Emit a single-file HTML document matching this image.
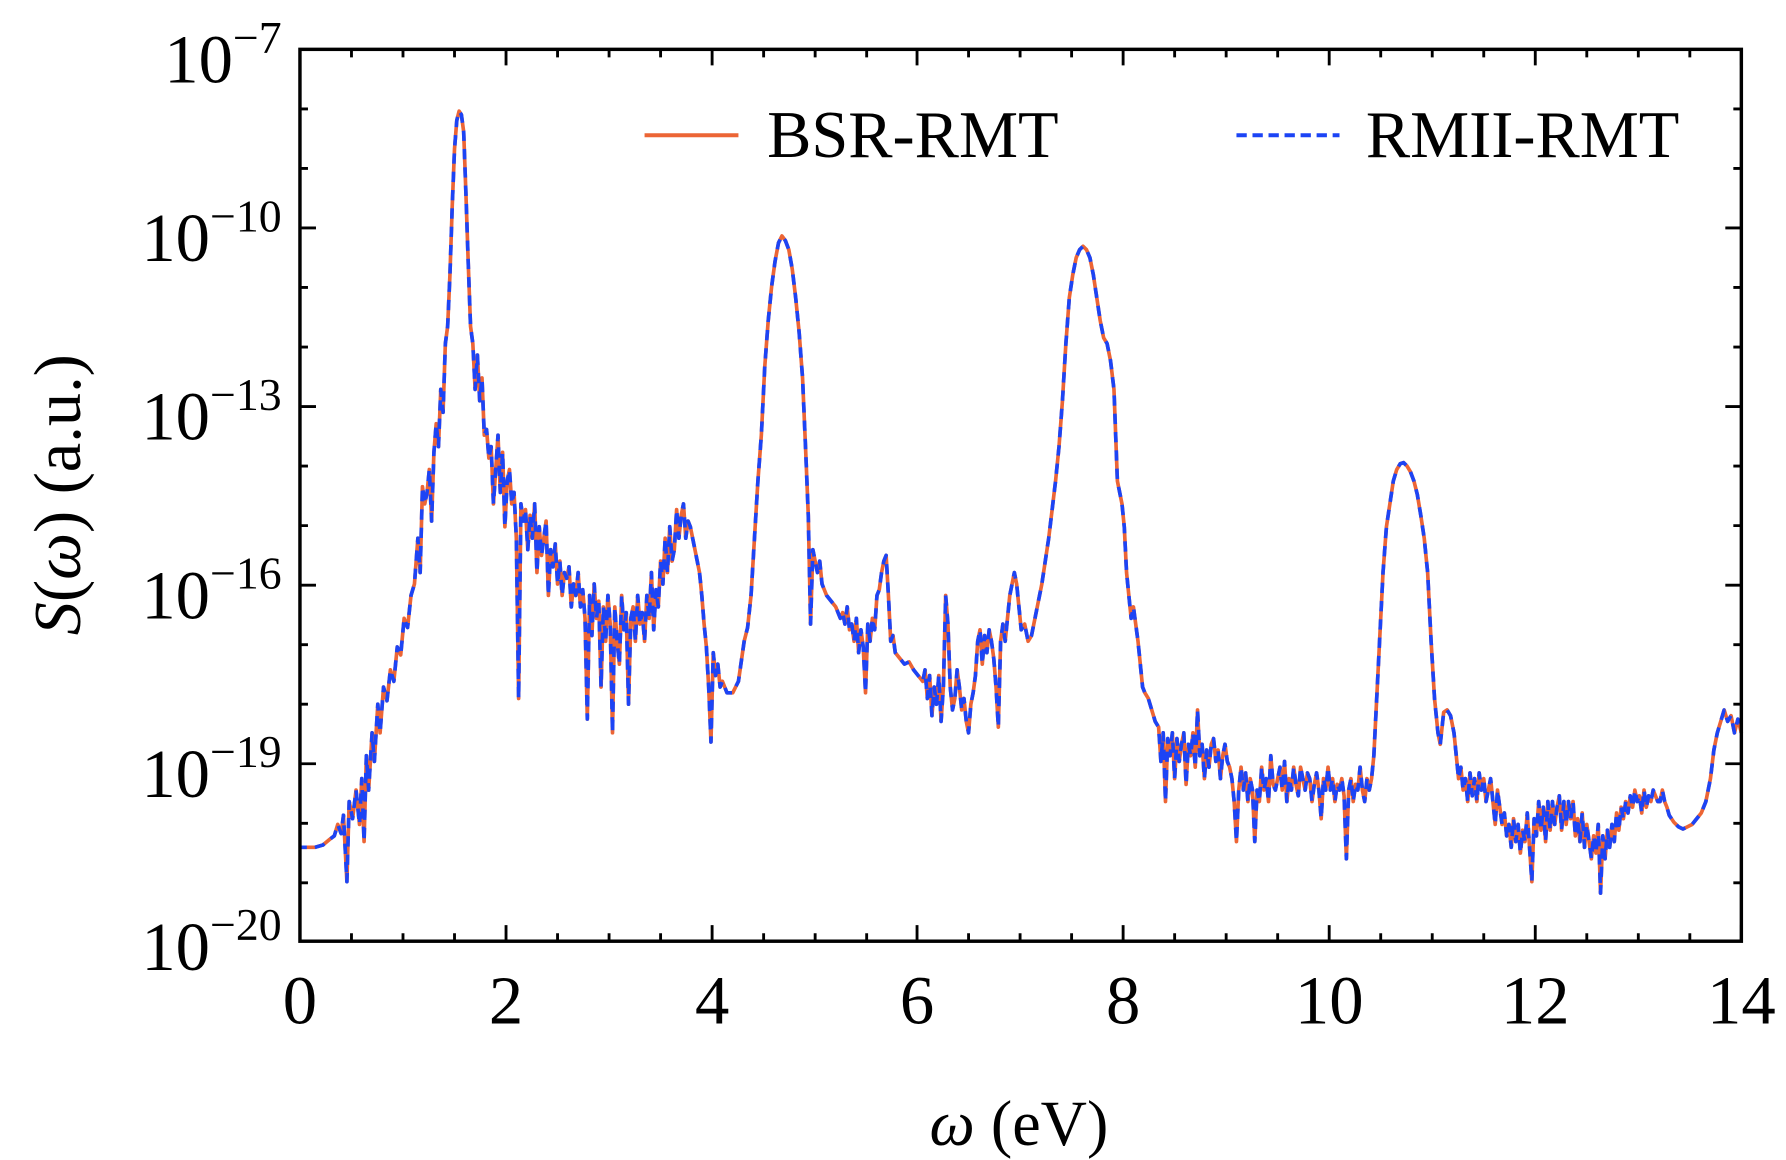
<!DOCTYPE html>
<html><head><meta charset="utf-8">
<style>
html,body{margin:0;padding:0;background:#fff;}
svg{display:block;}
text{font-family:"Liberation Serif",serif;fill:#000;}
</style></head>
<body>
<svg width="1786" height="1160" viewBox="0 0 1560 1013" xmlns="http://www.w3.org/2000/svg">
<rect width="1560" height="1013" fill="#fff"/>
<defs>
<path id="d" d="M262 740 L275 740 L282 738 L288 733 L292 730 L295 720 L298 728 L300 712 L303 770 L305 700 L308 715 L311 690 L314 720 L316 680 L318 735 L320 660 L322 690 L325 640 L327 665 L330 615 L332 640 L335 600 L338 612 L341 585 L344 595 L347 565 L350 572 L353 540 L356 548 L359 520 L362 510 L365 470 L367 500 L369 425 L371 440 L373 430 L375 410 L377 455 L379 395 L381 370 L383 390 L385 340 L387 360 L389 300 L391 285 L393 240 L395 180 L397 130 L399 105 L401 97 L403 100 L405 115 L407 170 L409 230 L411 285 L413 300 L415 340 L417 310 L419 350 L421 330 L423 380 L425 375 L427 400 L429 390 L431 440 L433 410 L435 380 L437 430 L439 395 L441 460 L443 420 L445 410 L447 440 L449 430 L451 470 L453 610 L455 440 L457 455 L459 445 L461 480 L463 450 L465 470 L467 440 L469 500 L471 460 L473 485 L475 470 L477 455 L479 520 L481 480 L483 495 L485 475 L487 510 L489 490 L491 520 L493 500 L495 505 L497 495 L499 530 L501 510 L503 520 L505 500 L507 530 L509 515 L511 540 L513 628 L515 520 L517 555 L519 510 L521 540 L523 525 L525 600 L527 530 L529 560 L531 520 L533 545 L535 640 L537 530 L539 560 L541 580 L543 520 L545 550 L547 535 L549 615 L551 540 L553 530 L555 560 L557 520 L559 545 L561 535 L563 560 L565 520 L567 540 L569 500 L571 550 L573 515 L575 530 L577 490 L579 510 L581 470 L583 500 L585 460 L587 490 L589 480 L591 445 L593 470 L595 450 L597 440 L599 470 L601 455 L603 460 L605 470 L607 480 L609 490 L611 500 L613 520 L615 545 L617 565 L619 600 L621 648 L623 570 L625 590 L627 580 L629 600 L631 595 L635 605 L640 605 L645 595 L650 560 L653 548 L656 520 L659 470 L662 420 L665 380 L668 320 L671 280 L674 250 L677 228 L680 212 L683 206 L686 210 L689 218 L692 235 L695 260 L698 290 L701 330 L704 400 L706 450 L708 545 L710 480 L712 490 L714 500 L716 490 L718 510 L722 520 L726 525 L730 530 L734 540 L736 535 L738 545 L740 530 L742 550 L744 545 L746 560 L748 540 L750 570 L752 550 L754 565 L756 605 L758 545 L760 560 L762 540 L764 550 L766 520 L768 515 L770 500 L772 490 L774 485 L776 520 L778 560 L780 555 L782 570 L786 575 L790 580 L794 578 L798 585 L802 590 L806 595 L808 585 L810 610 L812 590 L814 625 L816 600 L818 615 L820 590 L822 630 L824 600 L826 520 L828 545 L830 600 L832 620 L834 610 L836 585 L838 600 L840 620 L842 610 L844 630 L846 640 L848 615 L850 605 L852 590 L854 560 L856 550 L858 580 L860 555 L862 570 L864 550 L866 560 L868 575 L870 600 L872 635 L874 560 L876 545 L878 560 L880 540 L882 520 L884 510 L886 500 L888 510 L890 530 L892 550 L895 545 L898 560 L901 555 L904 540 L907 525 L910 510 L913 490 L916 470 L919 445 L922 420 L925 390 L928 350 L931 300 L934 260 L937 240 L940 225 L943 218 L946 215 L949 218 L952 225 L955 240 L958 260 L961 280 L964 295 L967 300 L970 315 L973 340 L976 420 L978 430 L980 440 L982 460 L984 500 L986 520 L988 540 L990 530 L992 545 L994 560 L996 580 L998 600 L1000 605 L1003 610 L1006 620 L1009 630 L1012 635 L1014 665 L1016 640 L1018 700 L1020 645 L1022 660 L1024 640 L1026 680 L1028 645 L1030 665 L1032 650 L1034 640 L1036 685 L1038 650 L1040 660 L1042 640 L1044 670 L1046 620 L1048 660 L1050 650 L1052 680 L1054 655 L1056 670 L1058 650 L1060 645 L1062 665 L1064 655 L1066 680 L1068 660 L1070 650 L1072 665 L1074 670 L1076 680 L1078 700 L1080 735 L1082 690 L1084 670 L1086 690 L1088 675 L1090 700 L1092 680 L1094 690 L1096 735 L1098 690 L1100 700 L1102 670 L1104 690 L1106 680 L1108 700 L1110 660 L1112 685 L1114 690 L1116 680 L1118 670 L1120 690 L1122 665 L1124 700 L1126 680 L1128 690 L1130 670 L1132 685 L1134 695 L1136 670 L1138 680 L1140 690 L1142 675 L1144 680 L1146 700 L1148 685 L1150 675 L1152 690 L1154 715 L1156 680 L1158 690 L1160 670 L1162 690 L1164 680 L1166 700 L1168 685 L1170 690 L1172 680 L1174 695 L1176 750 L1178 690 L1180 680 L1182 700 L1184 685 L1186 690 L1188 670 L1190 690 L1192 700 L1194 680 L1196 690 L1198 680 L1200 660 L1202 620 L1205 560 L1208 500 L1211 460 L1214 440 L1217 420 L1220 410 L1223 405 L1226 404 L1229 407 L1232 412 L1235 420 L1238 432 L1241 450 L1244 470 L1247 500 L1250 560 L1253 610 L1256 640 L1258 650 L1261 622 L1264 620 L1267 625 L1270 640 L1272 660 L1274 680 L1276 670 L1278 690 L1280 680 L1282 700 L1284 675 L1286 695 L1288 680 L1290 700 L1292 675 L1294 690 L1296 680 L1298 700 L1300 690 L1302 680 L1304 700 L1306 720 L1308 690 L1310 705 L1312 720 L1314 710 L1316 730 L1318 720 L1320 740 L1322 715 L1324 735 L1326 720 L1328 745 L1330 725 L1332 735 L1334 710 L1336 740 L1338 770 L1340 715 L1342 730 L1344 700 L1346 725 L1348 705 L1350 735 L1352 700 L1354 725 L1356 700 L1358 720 L1360 705 L1362 695 L1364 725 L1366 700 L1368 720 L1370 700 L1372 715 L1374 700 L1376 730 L1378 715 L1380 735 L1382 710 L1384 740 L1386 720 L1388 735 L1390 750 L1392 730 L1394 745 L1396 720 L1398 780 L1400 730 L1402 750 L1404 725 L1406 740 L1408 720 L1410 735 L1412 710 L1414 725 L1416 705 L1418 715 L1420 700 L1422 710 L1424 695 L1426 705 L1428 690 L1430 700 L1432 695 L1434 710 L1436 690 L1438 705 L1440 695 L1442 700 L1444 690 L1446 695 L1448 700 L1450 700 L1452 690 L1454 700 L1456 705 L1458 712 L1462 718 L1466 722 L1470 724 L1474 722 L1478 720 L1482 715 L1486 710 L1490 700 L1494 680 L1497 655 L1500 640 L1503 630 L1506 620 L1509 630 L1512 625 L1515 640 L1518 628 L1521 640"/>
</defs>
<use href="#d" fill="none" stroke="#ec6535" stroke-width="3.2" stroke-linejoin="round"/>
<use href="#d" fill="none" stroke="#1c44f5" stroke-width="3.2" stroke-dasharray="9 7" stroke-dashoffset="3" stroke-linejoin="round"/>
<path fill="none" stroke="#000" stroke-width="2.5" d="
M262 822v-14M307 822v-7M352 822v-7M397 822v-7M442 822v-14M487 822v-7M532 822v-7M577 822v-7M622 822v-14M667 822v-7M712 822v-7M757 822v-7M801 822v-14M846 822v-7M891 822v-7M936 822v-7M981 822v-14M1026 822v-7M1071 822v-7M1116 822v-7M1161 822v-14M1206 822v-7M1251 822v-7M1296 822v-7M1341 822v-14M1386 822v-7M1431 822v-7M1476 822v-7M1521 822v-14
M262 43v14M307 43v7M352 43v7M397 43v7M442 43v14M487 43v7M532 43v7M577 43v7M622 43v14M667 43v7M712 43v7M757 43v7M801 43v14M846 43v7M891 43v7M936 43v7M981 43v14M1026 43v7M1071 43v7M1116 43v7M1161 43v14M1206 43v7M1251 43v7M1296 43v7M1341 43v14M1386 43v7M1431 43v7M1476 43v7M1521 43v14
M262 95h7M262 147h7M262 199h14M262 251h7M262 303h7M262 355h14M262 407h7M262 459h7M262 511h14M262 563h7M262 615h7M262 667h14M262 719h7M262 771h7
M1521 95h-7M1521 147h-7M1521 199h-14M1521 251h-7M1521 303h-7M1521 355h-14M1521 407h-7M1521 459h-7M1521 511h-14M1521 563h-7M1521 615h-7M1521 667h-14M1521 719h-7M1521 771h-7"/>
<rect x="262" y="43" width="1259" height="779" fill="none" stroke="#000" stroke-width="3"/>
<g font-size="60" text-anchor="end">
<text x="246" y="72">10<tspan font-size="40" dy="-26">−7</tspan></text>
<text x="246" y="228">10<tspan font-size="40" dy="-26">−10</tspan></text>
<text x="246" y="384">10<tspan font-size="40" dy="-26">−13</tspan></text>
<text x="246" y="540">10<tspan font-size="40" dy="-26">−16</tspan></text>
<text x="246" y="696">10<tspan font-size="40" dy="-26">−19</tspan></text>
<text x="246" y="847">10<tspan font-size="40" dy="-26">−20</tspan></text>
</g>
<g font-size="60" text-anchor="middle">
<text x="262" y="894">0</text><text x="442" y="894">2</text><text x="622" y="894">4</text>
<text x="801" y="894">6</text><text x="981" y="894">8</text><text x="1161" y="894">10</text>
<text x="1341" y="894">12</text><text x="1521" y="894">14</text>
</g>
<text x="890" y="1000" font-size="56" text-anchor="middle"><tspan font-style="italic">ω</tspan> (eV)</text>
<text font-size="58" text-anchor="middle" transform="translate(70,432) rotate(-90)"><tspan font-style="italic">S</tspan>(<tspan font-style="italic">ω</tspan>) (a.u.)</text>
<line x1="563" y1="118" x2="645" y2="118" stroke="#ec6535" stroke-width="3.5"/>
<text x="670" y="137" font-size="58">BSR-RMT</text>
<line x1="1080" y1="118" x2="1170" y2="118" stroke="#1c44f5" stroke-width="3.5" stroke-dasharray="9 5"/>
<text x="1193" y="137" font-size="58">RMII-RMT</text>
</svg>
</body></html>
